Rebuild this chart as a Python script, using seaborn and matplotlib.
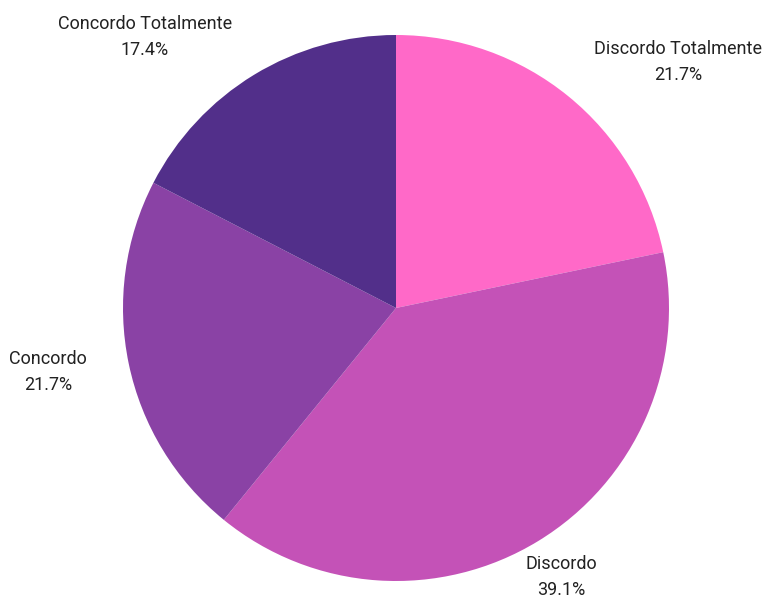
import matplotlib
matplotlib.use("Agg")
import matplotlib.pyplot as plt
import seaborn as sns

categorias = ["Discordo Totalmente", "Discordo", "Concordo", "Concordo Totalmente"]
percentuais = [21.7, 39.1, 21.7, 17.4]
cores = ["#FF69C8", "#C452B7", "#8A42A5", "#522F8A"]

sns.set_theme(style="white")
plt.rcParams["font.family"] = ["Roboto", "DejaVu Sans"]

fig = plt.figure(figsize=(7.64, 6.0), dpi=100)
ax = fig.add_axes([0, 0, 1, 1])

palette = sns.color_palette(cores)
ax.pie(percentuais, colors=palette, startangle=90, counterclock=False,
       center=(396, 292), radius=273, wedgeprops=dict(linewidth=0))
ax.set_xlim(0, 764)
ax.set_ylim(0, 600)
ax.set_aspect("auto")
ax.axis("off")

# label anchors (pixel coordinates from the top-left of the canvas)
pos_rotulos = [(678, 62), (561, 577), (48, 372), (145, 37)]
for nome, valor, (x, y) in zip(categorias, percentuais, pos_rotulos):
    ax.text(x, 600 - y, f"{nome}\n{valor:.1f}%", ha="center", va="center",
            fontsize=13, color="#222222", linespacing=1.55)

fig.savefig("out.png", dpi=100)
